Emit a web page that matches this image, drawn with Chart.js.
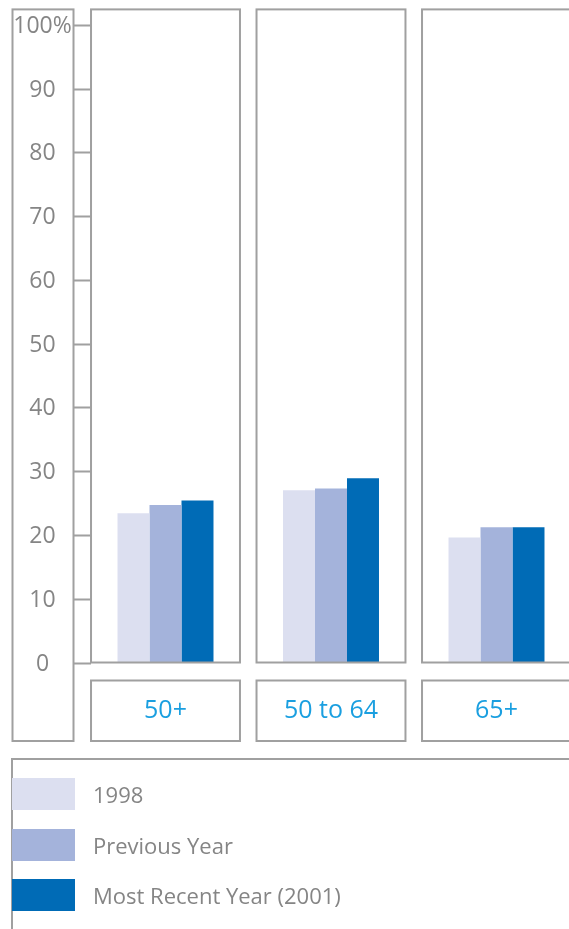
<!DOCTYPE html>
<html>
<head>
<meta charset="utf-8">
<script src="https://cdn.jsdelivr.net/npm/chart.js@4.4.1/dist/chart.umd.min.js"></script>
<style>
  html, body { margin: 0; padding: 0; background: #fff; overflow: hidden; }
  body { width: 569px; height: 929px; position: relative; }
  #wrap { position: absolute; left: 0; top: 0; width: 580px; height: 929px; }
  #legendFrame {
    position: absolute; left: 11px; top: 758px; width: 620px; height: 200px;
    border-top: 2px solid #a0a0a0; border-left: 2px solid #a0a0a0;
  }
  .legend-item {
    position: absolute; left: 12px; height: 32px; display: flex; align-items: center;
    font-family: "Open Sans", sans-serif; font-size: 22px; color: #858585; white-space: nowrap;
  }
  .legend-item .swatch { width: 63px; height: 32px; margin-right: 18px; flex: none; }
</style>
</head>
<body>
<div id="wrap"><canvas id="chart" width="580" height="929"></canvas></div>
<div id="legendFrame"></div>
<div id="legend"></div>
<script>
// Age groups and the share (%) reported for each year
const categories = ['50+', '50 to 64', '65+'];
const values1998 = [23.4, 27.0, 19.6];
const valuesPrevious = [24.7, 27.3, 21.2];
const valuesRecent = [25.4, 28.9, 21.2];
const seriesNames = ['1998', 'Previous Year', 'Most Recent Year (2001)'];
const seriesColors = ['#dcdff0', '#a4b3db', '#006bb6'];
const yTickLabels = ['0', '10', '20', '30', '40', '50', '60', '70', '80', '90', '100%'];

const frameColor = '#a0a0a0';

// Boxes around each group, the axis label column and the category captions
const panelFrames = {
  id: 'panelFrames',
  afterDatasetsDraw(chart, args, opts) {
    const { ctx, chartArea, scales: { x, y } } = chart;
    const band = x.width / categories.length;
    const half = band * opts.panelRatio / 2;
    const top = chartArea.top - opts.topGap;
    ctx.save();
    ctx.strokeStyle = frameColor;
    ctx.lineWidth = 2;
    let firstLeft = null;
    categories.forEach((c, i) => {
      const cx = x.getPixelForValue(i);
      if (firstLeft === null) firstLeft = cx - half;
      ctx.strokeRect(cx - half, top, 2 * half, chartArea.bottom - top);
      ctx.strokeRect(cx - half, chartArea.bottom + opts.captionGap, 2 * half,
        opts.bottomEdge - chartArea.bottom - opts.captionGap);
    });
    ctx.strokeRect(opts.axisLeft, top, opts.axisRight - opts.axisLeft, opts.bottomEdge - top);
    ctx.beginPath();
    y.ticks.forEach(t => {
      const py = Math.round(y.getPixelForValue(t.value)) + 0.5;
      ctx.moveTo(opts.axisRight, py);
      ctx.lineTo(firstLeft, py);
    });
    ctx.stroke();
    ctx.restore();
  }
};

const ctx = document.getElementById('chart').getContext('2d');
new Chart(ctx, {
  type: 'bar',
  data: {
    labels: categories,
    datasets: [values1998, valuesPrevious, valuesRecent].map((vals, i) => ({
      label: seriesNames[i],
      data: vals,
      backgroundColor: seriesColors[i],
      borderWidth: 0,
      barPercentage: 1.0,
      categoryPercentage: 0.58
    }))
  },
  options: {
    responsive: false,
    devicePixelRatio: 1,
    animation: false,
    layout: { padding: { left: 12, top: 22.7, right: 0.75, bottom: 187 } },
    plugins: {
      legend: { display: false },
      tooltip: { enabled: false },
      panelFrames: { panelRatio: 0.9, topGap: 15.4, captionGap: 18, bottomEdge: 741, axisLeft: 12.5, axisRight: 73.5 }
    },
    scales: {
      x: {
        type: 'category',
        offset: true,
        grid: { display: false, drawTicks: false },
        border: { display: false },
        ticks: {
          color: '#1a9fe0',
          font: { family: 'Open Sans', size: 25 },
          padding: 33,
          maxRotation: 0,
          autoSkip: false
        },
        afterFit(scale) { scale.height = 79.5; }
      },
      y: {
        min: 0,
        max: 100,
        grid: { display: false, drawTicks: false },
        border: { display: false },
        ticks: {
          stepSize: 10,
          color: '#858585',
          font: { family: 'Open Sans', size: 23 },
          crossAlign: 'center',
          padding: 11,
          labelOffset: 1.5,
          callback: (v, i) => yTickLabels[i]
        },
        afterFit(scale) { scale.width = 70.75; }
      }
    }
  },
  plugins: [panelFrames]
});

// Legend: one row per series, swatch then name
const legend = document.getElementById('legend');
seriesNames.forEach((name, i) => {
  const row = document.createElement('div');
  row.className = 'legend-item';
  row.style.top = (778 + i * 50.5) + 'px';
  const sw = document.createElement('span');
  sw.className = 'swatch';
  sw.style.background = seriesColors[i];
  const txt = document.createElement('span');
  txt.textContent = name;
  row.appendChild(sw);
  row.appendChild(txt);
  legend.appendChild(row);
});
</script>
</body>
</html>
